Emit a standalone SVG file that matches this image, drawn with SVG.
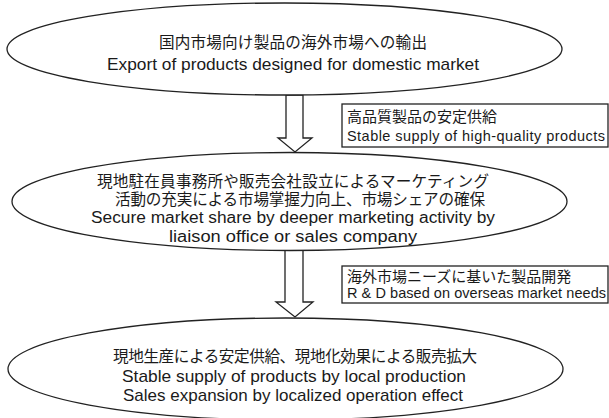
<svg xmlns="http://www.w3.org/2000/svg" width="609" height="418" viewBox="0 0 609 418">
<style>
.shape{fill:#fff;stroke:#222;stroke-width:1.3}
.j{font-family:"Liberation Sans","Noto Sans CJK JP",sans-serif;font-size:15.6px;fill:#1a1a1a}
.e{font-family:"Liberation Sans","Noto Sans CJK JP",sans-serif;font-size:17px;fill:#1a1a1a}
.e2{font-family:"Liberation Sans","Noto Sans CJK JP",sans-serif;font-size:16px;fill:#1a1a1a}
.bj{font-family:"Liberation Sans","Noto Sans CJK JP",sans-serif;font-size:15px;fill:#1a1a1a}
.be{font-family:"Liberation Sans","Noto Sans CJK JP",sans-serif;font-size:14.5px;fill:#1a1a1a}
</style>
<rect width="609" height="418" fill="#fff"/>
<g id="connectors">
<path class="shape" d="M286,95 L303,95 L303,138 L312,138 L295,152 L278,138 L286,138 Z"/>
<path class="shape" d="M285,250 L303,250 L303,302 L313,302 L295,317 L276,302 L285,302 Z"/>
</g>
<g id="node1">
<ellipse class="shape" cx="284.5" cy="49" rx="277.5" ry="46"/>
<text class="j" x="159" y="48" textLength="268">国内市場向け製品の海外市場への輸出</text>
<text class="e" x="107" y="70" textLength="372" lengthAdjust="spacingAndGlyphs">Export of products designed for domestic market</text>
</g>
<g id="label1">
<rect class="shape" x="342" y="104" width="266" height="43"/>
<text class="bj" x="347" y="122">高品質製品の安定供給</text>
<text class="be" x="347" y="141" textLength="258">Stable supply of high-quality products</text>
</g>
<g id="node2">
<ellipse class="shape" cx="289.5" cy="201.5" rx="277.5" ry="49"/>
<text class="j" x="97" y="187" textLength="392">現地駐在員事務所や販売会社設立によるマーケティング</text>
<text class="j" x="115" y="205" textLength="370">活動の充実による市場掌握力向上、市場シェアの確保</text>
<text class="e2" x="91" y="223" textLength="404" lengthAdjust="spacingAndGlyphs">Secure market share by deeper marketing activity by</text>
<text class="e2" x="169" y="242" textLength="248" lengthAdjust="spacingAndGlyphs">liaison office or sales company</text>
</g>
<g id="label2">
<rect class="shape" x="342" y="266" width="266" height="37"/>
<text class="bj" x="347" y="282">海外市場ニーズに基いた製品開発</text>
<text class="be" x="347" y="298" textLength="259">R &amp; D based on overseas market needs</text>
</g>
<g id="node3">
<ellipse class="shape" cx="285.5" cy="369" rx="277.5" ry="51"/>
<text class="j" x="113" y="362" textLength="364">現地生産による安定供給、現地化効果による販売拡大</text>
<text class="e" x="122" y="382" textLength="344" lengthAdjust="spacingAndGlyphs">Stable supply of products by local production</text>
<text class="e" x="123" y="401" textLength="340" lengthAdjust="spacingAndGlyphs">Sales expansion by localized operation effect</text>
</g>
</svg>
